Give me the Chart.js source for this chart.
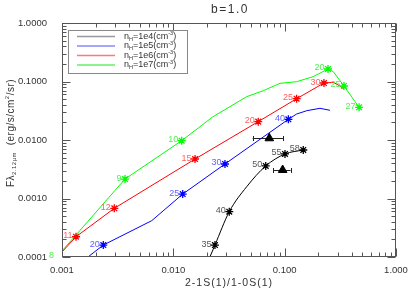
<!DOCTYPE html>
<html><head><meta charset="utf-8">
<script src="https://cdn.jsdelivr.net/npm/chart.js@4"></script>
<style>html,body{margin:0;padding:0;background:#fff}#c{display:block}</style>
</head><body>
<canvas id="c" width="415" height="297"></canvas>
<script>
// ---- tick labels ----
const xTickValues = [0.001, 0.01, 0.1, 1];
const xTickLabels = ['0.001', '0.010', '0.100', '1.000'];
const yTickValues = [0.0001, 0.001, 0.01, 0.1, 1];
const yTickLabels = ['0.0001', '0.0010', '0.0100', '0.1000', '1.0000'];

// ---- series names ----
const seriesNames = ['1e4', '1e5', '1e6', '1e7'];

// ---- model curves ----
const curveX_1e4 = [0.0213, 0.02365, 0.0318, 0.0456, 0.0676, 0.1007, 0.1469];
const curveY_1e4 = [1.0e-4, 1.6e-4, 5.95e-4, 0.00159, 0.0036, 0.00577, 0.00675];
const curveX_1e5 = [0.00171, 0.00235, 0.0064, 0.01214, 0.0291, 0.108, 0.128, 0.158, 0.2075, 0.2553];
const curveY_1e5 = [1.0e-4, 1.6e-4, 4.18e-4, 0.00119, 0.00389, 0.0226, 0.0278, 0.0317, 0.0348, 0.0322];
const curveX_1e6 = [0.001, 0.001336, 0.00295, 0.01567, 0.0579, 0.128, 0.2254, 0.2735, 0.314, 0.341];
const curveY_1e6 = [1.22e-4, 2.22e-4, 6.8e-4, 0.00473, 0.0206, 0.0508, 0.0942, 0.0968, 0.0838, 0.0736];
const curveX_1e7 = [0.00091, 0.00368, 0.01188, 0.0227, 0.0456, 0.0643, 0.0908, 0.128, 0.180, 0.245, 0.2735, 0.341, 0.466];
const curveY_1e7 = [1.035e-4, 0.00215, 0.00973, 0.0250, 0.0550, 0.0697, 0.0931, 0.0992, 0.121, 0.1636, 0.147, 0.0838, 0.0362];

// ---- labelled markers ----
const markX_1e4 = [0.02365, 0.0318, 0.0676, 0.1007, 0.1469];
const markY_1e4 = [1.6e-4, 5.95e-4, 0.0036, 0.00577, 0.00675];
const markL_1e4 = ['35', '40', '50', '55', '58'];
const markX_1e5 = [0.00235, 0.01214, 0.0291, 0.108];
const markY_1e5 = [1.6e-4, 0.00119, 0.00389, 0.0226];
const markL_1e5 = ['20', '25', '30', '40'];
const markX_1e6 = [0.001336, 0.00295, 0.01567, 0.0579, 0.128, 0.2254];
const markY_1e6 = [2.22e-4, 6.8e-4, 0.00473, 0.0206, 0.0508, 0.0942];
const markL_1e6 = ['11', '12', '15', '20', '25', '30'];
const markX_1e7 = [0.00091, 0.00368, 0.01188, 0.245, 0.341, 0.466];
const markY_1e7 = [1.035e-4, 0.00215, 0.00973, 0.1636, 0.0838, 0.0362];
const markL_1e7 = ['8', '9', '10', '20', '25', '27'];

// ---- observations (triangles with x error bars) ----
const obsX = [0.0728, 0.0959];
const obsY = [0.0107, 0.00307];
const obsXmin = [0.0516, 0.0791];
const obsXmax = [0.0973, 0.113];

const lineColors = ['#000000', '#0000ff', '#ff0000', '#00ff00'];
const labelColors = ['#555555', '#6060ff', '#ff6060', '#50ee50'];
const legendColors = ['#999999', '#8888ff', '#ff7777', '#66ee66'];

const zip = (xs, ys) => xs.map((v, i) => ({x: v, y: ys[i]}));
const curves = [[curveX_1e4, curveY_1e4], [curveX_1e5, curveY_1e5], [curveX_1e6, curveY_1e6], [curveX_1e7, curveY_1e7]];
const marks = [[markX_1e4, markY_1e4, markL_1e4], [markX_1e5, markY_1e5, markL_1e5], [markX_1e6, markY_1e6, markL_1e6], [markX_1e7, markY_1e7, markL_1e7]];

const datasets = [];
curves.forEach((c, i) => datasets.push({
  type: 'line', data: zip(c[0], c[1]), borderColor: lineColors[i], borderWidth: 1,
  pointRadius: 0, fill: false, tension: 0, clip: 0,
  cubicInterpolationMode: i === 0 ? 'monotone' : 'default', order: 2
}));
marks.forEach((m, i) => datasets.push({
  type: 'scatter', data: zip(m[0], m[1]), labels: m[2], isMark: true, labelColor: labelColors[i],
  pointStyle: 'star', pointRadius: 4, borderWidth: 1.3, borderColor: lineColors[i],
  backgroundColor: lineColors[i], showLine: false, clip: 0, order: 1
}));
datasets.push({
  type: 'scatter', data: zip(obsX, obsY), isObs: true, pointStyle: 'triangle', pointRadius: 5,
  backgroundColor: '#000', borderColor: '#000', borderWidth: 1, clip: 0, order: 0
});

const FONT = '"Liberation Sans", Arial, sans-serif';
const TXT = '#333333';

const decorPlugin = {
  id: 'decor',
  beforeDatasetsDraw(chart) {
    const {ctx, scales: {x, y}} = chart;
    ctx.save();
    ctx.strokeStyle = '#222'; ctx.lineWidth = 1;
    obsX.forEach((v, i) => {
      const py = Math.round(y.getPixelForValue(obsY[i])) + 0.5;
      const x1 = x.getPixelForValue(obsXmin[i]), x2 = x.getPixelForValue(obsXmax[i]);
      ctx.beginPath();
      ctx.moveTo(x1, py); ctx.lineTo(x2, py);
      ctx.moveTo(Math.round(x1) + 0.5, py - 2.5); ctx.lineTo(Math.round(x1) + 0.5, py + 2.5);
      ctx.moveTo(Math.round(x2) + 0.5, py - 2.5); ctx.lineTo(Math.round(x2) + 0.5, py + 2.5);
      ctx.stroke();
    });
    ctx.restore();
  },
  afterDatasetsDraw(chart) {
    const {ctx, chartArea: a, scales: {x, y}} = chart;
    ctx.save();
    // frame
    ctx.strokeStyle = '#555'; ctx.lineWidth = 1;
    const L = Math.round(a.left) + 0.5, R = Math.round(a.right) - 0.5, T = Math.round(a.top) + 0.5, B = Math.round(a.bottom) - 0.5;
    ctx.strokeRect(L, T, R - L, B - T);
    // ticks
    ctx.beginPath();
    for (let d = -4; d <= 0; d++) {
      for (let m = 1; m <= 9; m++) {
        const v = m * Math.pow(10, d);
        const len = m === 1 ? 8 : 4;
        if (v >= 0.001 - 1e-12 && v <= 1 + 1e-12) {
          const px = Math.round(x.getPixelForValue(v)) + 0.5;
          ctx.moveTo(px, B); ctx.lineTo(px, B - len);
          ctx.moveTo(px, T); ctx.lineTo(px, T + len);
        }
        if (v >= 0.0001 - 1e-12 && v <= 1 + 1e-12) {
          const py = Math.round(y.getPixelForValue(v)) + 0.5;
          ctx.moveTo(L, py); ctx.lineTo(L + len, py);
          ctx.moveTo(R, py); ctx.lineTo(R - len, py);
        }
      }
    }
    ctx.stroke();

    // point labels
    ctx.font = '9px ' + FONT;
    ctx.textAlign = 'right'; ctx.textBaseline = 'alphabetic';
    chart.data.datasets.forEach((ds, di) => {
      if (!ds.isMark) return;
      const meta = chart.getDatasetMeta(di);
      ctx.fillStyle = ds.labelColor;
      meta.data.forEach((pt, i) => {
        ctx.fillText(ds.labels[i], pt.x - 3.5, pt.y + 1.5);
      });
    });

    // legend
    const lx = a.left + 6, ly = a.top + 7;
    ctx.strokeStyle = '#888'; ctx.lineWidth = 1;
    ctx.strokeRect(Math.round(lx) + 0.5, Math.round(ly) + 0.5, 119, 43);
    const rowY = [6.5, 16, 25.5, 35];
    seriesNames.forEach((n, i) => {
      const yy = ly + rowY[i];
      ctx.strokeStyle = legendColors[i]; ctx.lineWidth = 1.5;
      ctx.beginPath(); ctx.moveTo(lx + 9, yy); ctx.lineTo(lx + 47, yy); ctx.stroke();
      ctx.fillStyle = TXT; ctx.textAlign = 'left'; ctx.textBaseline = 'middle';
      let cx = lx + 56;
      const part = (t, size, dy) => { ctx.font = size + 'px ' + FONT; ctx.fillText(t, cx, yy + dy); cx += ctx.measureText(t).width; };
      part('n', 9, 0); part('H', 5.5, 2.5); part('=' + n + '(cm', 9, 0); part('-3', 5.5, -3); part(')', 9, 0);
    });

    // title
    ctx.fillStyle = TXT; ctx.textAlign = 'center'; ctx.textBaseline = 'middle';
    ctx.font = '12px ' + FONT;
    try { ctx.letterSpacing = '1.5px'; } catch (e) {}
    ctx.fillText('b=1.0', (a.left + a.right) / 2 + 1, 10);
    ctx.font = '10.5px ' + FONT;
    try { ctx.letterSpacing = '1px'; } catch (e) {}
    ctx.fillText('2-1S(1)/1-0S(1)', (a.left + a.right) / 2, 283);
    try { ctx.letterSpacing = '0.5px'; } catch (e) {}

    // y title (rotated)
    ctx.save();
    ctx.translate(11, 133);
    ctx.rotate(-Math.PI / 2);
    ctx.textAlign = 'left'; ctx.textBaseline = 'middle';
    const pieces = [['Fλ', 10, 0], ['2.12μm', 6, 3], ['  (erg/s/cm', 10, 0], ['2', 6, -4], ['/sr)', 10, 0]];
    let w = 0;
    pieces.forEach(p => { ctx.font = p[1] + 'px ' + FONT; w += ctx.measureText(p[0]).width; });
    let cx = -w / 2;
    pieces.forEach(p => { ctx.font = p[1] + 'px ' + FONT; ctx.fillText(p[0], cx, p[2]); cx += ctx.measureText(p[0]).width; });
    ctx.restore();
    try { ctx.letterSpacing = '0px'; } catch (e) {}
    ctx.restore();
  }
};

new Chart(document.getElementById('c'), {
  type: 'scatter',
  data: {datasets},
  options: {
    responsive: false, animation: false, devicePixelRatio: 1,
    layout: {padding: {top: 23, right: 19, left: 0, bottom: 0}},
    plugins: {legend: {display: false}, tooltip: {enabled: false}, title: {display: false}},
    scales: {
      x: {
        type: 'logarithmic', position: 'bottom', min: 0.001, max: 1,
        afterBuildTicks: s => { s.ticks = xTickValues.map(v => ({value: v})); },
        afterFit: s => { s.height = 40; },
        ticks: {callback: (v, i) => xTickLabels[i], color: TXT, font: {size: 9.5, family: FONT}, padding: 0, maxRotation: 0, autoSkip: false},
        grid: {display: false}, border: {display: false}
      },
      y: {
        type: 'logarithmic', position: 'left', min: 0.0001, max: 1,
        afterBuildTicks: s => { s.ticks = yTickValues.map(v => ({value: v})); },
        afterFit: s => { s.width = 62; },
        ticks: {callback: (v, i) => yTickLabels[i], color: TXT, font: {size: 9.5, family: FONT}, padding: 7, autoSkip: false},
        grid: {display: false}, border: {display: false}
      }
    }
  },
  plugins: [decorPlugin]
});
</script>
</body></html>
